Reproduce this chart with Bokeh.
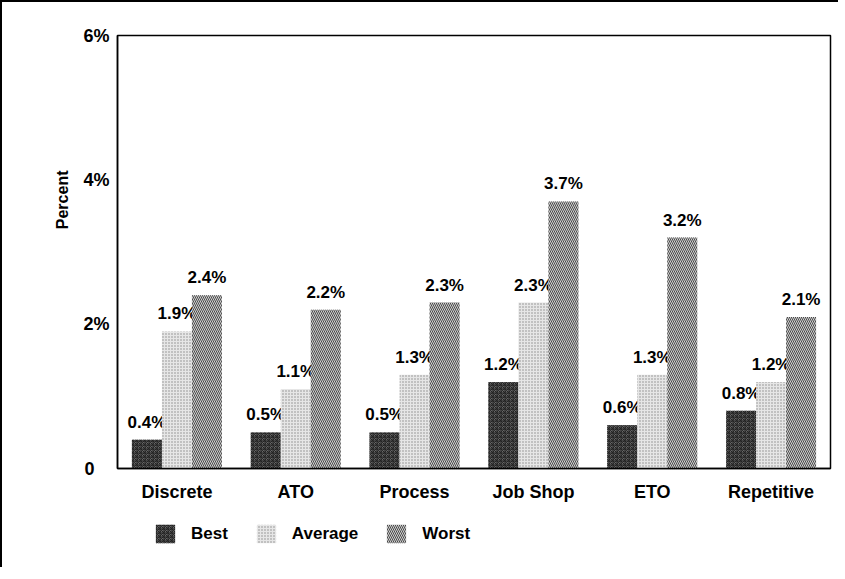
from bokeh.plotting import figure
from bokeh.models import ColumnDataSource, FactorRange, Legend, LegendItem, FixedTicker, Title
from bokeh.layouts import column
from bokeh.transform import dodge
from bokeh.core.properties import value
from bokeh.embed import file_html
from bokeh.resources import INLINE

categories = ["Discrete", "ATO", "Process", "Job Shop", "ETO", "Repetitive"]
series = ["Best", "Average", "Worst"]
best = [0.4, 0.5, 0.5, 1.2, 0.6, 0.8]
average = [1.9, 1.1, 1.3, 2.3, 1.3, 1.2]
worst = [2.4, 2.2, 2.3, 3.7, 3.2, 2.1]
y_ticks = [0, 2, 4, 6]
y_tick_labels = ["0\u00a0\u00a0\u00a0", "2%", "4%", "6%"]

FONT = "Liberation Sans"

src = ColumnDataSource(dict(
    cat=categories,
    best=best, average=average, worst=worst,
    best_lbl=[f"{v:.1f}%" for v in best],
    average_lbl=[f"{v:.1f}%" for v in average],
    worst_lbl=[f"{v:.1f}%" for v in worst],
))

p = figure(x_range=FactorRange(factors=categories, range_padding=0),
           y_range=(0, 6), width=836, height=510,
           output_backend="svg", toolbar_location=None,
           min_border_left=115, min_border_right=8,
           min_border_top=33, min_border_bottom=44)

bw = 0.2525
styles = {
    "best": dict(fill_color="#666666", hatch_pattern="criss_cross", hatch_color="#222222",
                 hatch_scale=4, hatch_weight=1),
    "average": dict(fill_color="#e6e6e6", hatch_pattern="dot", hatch_color="#8a8a8a",
                    hatch_scale=3, hatch_weight=1),
    "worst": dict(fill_color="#d0d0d0", hatch_pattern="left_diagonal_line", hatch_color="#4a4a4a",
                  hatch_scale=4, hatch_weight=1),
}
keys = ["best", "average", "worst"]
offsets = {"best": -bw, "average": 0.0, "worst": bw}
for key in keys:
    p.vbar(x=dodge("cat", offsets[key], range=p.x_range), top=key, width=bw,
           source=src, line_color=None, **styles[key])
    p.text(x=dodge("cat", offsets[key], range=p.x_range), y=key, text=key + "_lbl",
           source=src, text_align="center", text_baseline="bottom", y_offset=-8,
           text_font=value(FONT), text_font_style="bold", text_font_size="17px",
           text_color="black")

p.xgrid.grid_line_color = None
p.ygrid.grid_line_color = None
p.outline_line_color = "black"
p.outline_line_width = 1.5

p.yaxis.ticker = FixedTicker(ticks=y_ticks)
p.yaxis.major_label_overrides = {t: l for t, l in zip(y_ticks, y_tick_labels)}
for ax in (p.xaxis, p.yaxis):
    ax.major_tick_line_color = None
    ax.minor_tick_line_color = None
    ax.axis_line_color = "black"
    ax.axis_line_width = 1.5
    ax.major_label_text_font = FONT
    ax.major_label_text_font_style = "bold"
    ax.major_label_text_color = "black"
p.yaxis.major_label_text_font_size = "18px"
p.yaxis.major_label_standoff = 2
p.xaxis.major_label_text_font_size = "18px"
p.xaxis.major_label_standoff = 7

ytitle = Title(text="Percent", align="right", offset=135,
               text_font=FONT, text_font_style="bold", text_font_size="16px",
               text_color="black")
if "standoff" in Title.properties():
    ytitle.standoff = 20
p.add_layout(ytitle, "left")

# legend strip below the chart (zero-size proxy bars carry the legend swatches)
p2 = figure(width=836, height=55, x_range=(0, 1), y_range=(0, 1),
            x_axis_type=None, y_axis_type=None,
            output_backend="svg", toolbar_location=None,
            min_border_left=0, min_border_right=0, min_border_top=0, min_border_bottom=0)
p2.outline_line_color = None
legend_renderers = []
for key in keys:
    legend_renderers.append(p2.vbar(x=0.5, top=0, bottom=0, width=0, source=src,
                                     line_color=None, **styles[key]))
legend = Legend(items=[LegendItem(label=s, renderers=[r], index=0)
                       for s, r in zip(series, legend_renderers)],
                orientation="horizontal", location=(36, 22),
                glyph_width=24, glyph_height=23, label_standoff=14, spacing=26,
                padding=0, margin=0, border_line_color=None, background_fill_alpha=0,
                label_text_font=FONT, label_text_font_style="bold",
                label_text_font_size="17px", label_text_color="black")
p2.add_layout(legend, "center")

root = column(p, p2, spacing=0)
root.styles = {"border-left": "2px solid black", "border-top": "2px solid black"}

open("out.html", "w").write(file_html(root, INLINE))
